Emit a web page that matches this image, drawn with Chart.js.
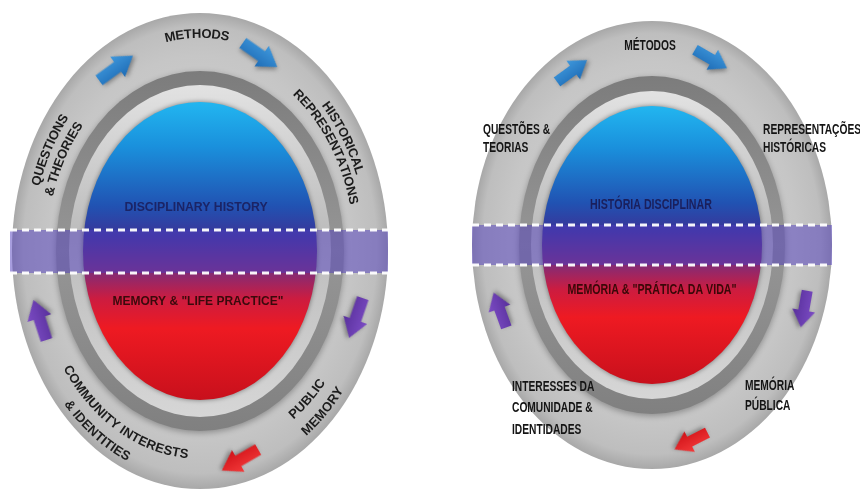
<!DOCTYPE html>
<html><head><meta charset="utf-8">
<script src="https://cdn.jsdelivr.net/npm/chart.js@4.4.1/dist/chart.umd.min.js"></script>
<style>html,body{margin:0;padding:0;background:#fff;}canvas{display:block;}</style>
</head><body>
<canvas id="c" width="860" height="490"></canvas>
<script>
// ---- text content ----
const centreLabelsEN = ['DISCIPLINARY HISTORY', 'MEMORY & "LIFE PRACTICE"'];
const centreLabelsPT = ['HISTÓRIA DISCIPLINAR', 'MEMÓRIA & "PRÁTICA DA VIDA"'];
const ringLabelsEN = ['METHODS', 'QUESTIONS', '& THEORIES', 'HISTORICAL', 'REPRESENTATIONS',
                      'COMMUNITY INTERESTS', '& IDENTITIES', 'PUBLIC', 'MEMORY'];
const ringLabelsPT = ['MÉTODOS', 'QUESTÕES &', 'TEORIAS', 'REPRESENTAÇÕES', 'HISTÓRICAS',
                      'INTERESSES DA', 'COMUNIDADE &', 'IDENTIDADES', 'MEMÓRIA', 'PÚBLICA'];
// ---- arrows (cycle markers) ----
const arrowKinds = ['blue', 'blue', 'purple', 'purple', 'red', 'blue', 'blue', 'purple', 'purple', 'red'];
const arrowX = [116, 260, 40, 356, 240, 572, 711, 500, 804, 691];
const arrowY = [68, 55, 320, 318, 460, 71, 59, 310, 309, 441];
const arrowAngle = [-36, 35, -108, 109, 150, -36, 30, -110, 100, 153];

// ---- layout of the two diagrams (data units = pixels of the 860x490 scale) ----
const diagrams = [
  {cx: 200, cy: 251, outer: [188, 238], dark: [144, 180], light: [131, 166], inner: [117, 149],
   band: [230, 273], bandX: [10, 388]},
  {cx: 652, cy: 245, outer: [180, 224], dark: [133, 169], light: [121, 154], inner: [110, 139],
   band: [225, 265], bandX: [472, 832]}
];
const ringTextEN = [ // [label index, k, t(deg), dir]
  [0, 172, -91, 1], [1, 172, -152, 1], [2, 157, -152, 1], [3, 171, -32, 1], [4, 158, -33, 1],
  [5, 162, 121, -1], [6, 179, 126, -1], [7, 160, 47.5, -1], [8, 178, 46, -1]
];
const ringTextPT = [ // [label index, x, y, align]
  [0, 650, 46, 'center'], [1, 483, 130, 'left'], [2, 483, 148, 'left'], [3, 763, 130, 'left'],
  [4, 763, 148, 'left'], [5, 512, 387, 'left'], [6, 512, 408, 'left'], [7, 512, 430, 'left'],
  [8, 745, 386, 'left'], [9, 745, 406, 'left']
];
const centreTextPos = [[196, 208, 198, 302], [651, 205, 652, 290]];

function makeArrow(len, shaftW, headW, headL, c1, c2) {
  const pad = 8;
  const cv = document.createElement('canvas');
  cv.width = len + pad * 2; cv.height = headW + pad * 2;
  const g = cv.getContext('2d');
  const cy = cv.height / 2;
  g.translate(pad, 0);
  g.beginPath();
  g.moveTo(0, cy - shaftW / 2);
  g.lineTo(len - headL, cy - shaftW / 2);
  g.lineTo(len - headL, cy - headW / 2);
  g.lineTo(len, cy);
  g.lineTo(len - headL, cy + headW / 2);
  g.lineTo(len - headL, cy + shaftW / 2);
  g.lineTo(0, cy + shaftW / 2);
  g.closePath();
  g.shadowColor = 'rgba(0,0,0,0.35)'; g.shadowBlur = 4; g.shadowOffsetX = 1.5; g.shadowOffsetY = 2;
  const grd = g.createLinearGradient(0, cy - headW / 2, 0, cy + headW / 2);
  grd.addColorStop(0, c1); grd.addColorStop(1, c2);
  g.fillStyle = grd; g.fill();
  return cv;
}
const arrowColours = {blue: ['#3f98dc', '#1e6cb6'], purple: ['#7c4cc4', '#58309c'], red: ['#f43a3a', '#d01218']};
const arrowImgs = [{}, {}];
for (const k in arrowColours) {
  arrowImgs[0][k] = makeArrow(42, 12, 25, 19, arrowColours[k][0], arrowColours[k][1]);
  arrowImgs[1][k] = makeArrow(37, 11, 23, 17, arrowColours[k][0], arrowColours[k][1]);
}

function ellipsePath(ctx, cx, cy, rx, ry) {
  ctx.beginPath(); ctx.ellipse(cx, cy, rx, ry, 0, 0, Math.PI * 2);
}

const ringsPlugin = {
  id: 'rings',
  beforeDatasetsDraw(chart) {
    const {ctx, scales: {x, y}} = chart;
    const sx = Math.abs(x.getPixelForValue(1) - x.getPixelForValue(0));
    const sy = Math.abs(y.getPixelForValue(1) - y.getPixelForValue(0));
    diagrams.forEach(d => {
      const cx = x.getPixelForValue(d.cx), cy = y.getPixelForValue(d.cy);
      ctx.save();
      // outer grey ring
      let rx = d.outer[0] * sx, ry = d.outer[1] * sy;
      ctx.save();
      ctx.translate(cx, cy); ctx.scale(1, ry / rx);
      let g = ctx.createRadialGradient(0, -rx * 0.1, 0, 0, 0, rx);
      g.addColorStop(0, '#d6d6d6'); g.addColorStop(0.8, '#c6c6c6');
      g.addColorStop(0.94, '#bebebe'); g.addColorStop(1, '#a8a8a8');
      ctx.fillStyle = g; ctx.beginPath(); ctx.arc(0, 0, rx, 0, Math.PI * 2); ctx.fill();
      ctx.restore();
      // dark ring
      rx = d.dark[0] * sx; ry = d.dark[1] * sy;
      ctx.save();
      ctx.shadowColor = 'rgba(0,0,0,0.3)'; ctx.shadowBlur = 6; ctx.shadowOffsetY = 2;
      g = ctx.createLinearGradient(0, cy - ry, 0, cy + ry);
      g.addColorStop(0, '#7c7c7c'); g.addColorStop(0.5, '#969696'); g.addColorStop(1, '#808080');
      ctx.fillStyle = g; ellipsePath(ctx, cx, cy, rx, ry); ctx.fill();
      ctx.restore();
      // light ring
      rx = d.light[0] * sx; ry = d.light[1] * sy;
      g = ctx.createLinearGradient(0, cy - ry, 0, cy + ry);
      g.addColorStop(0, '#e2e2e2'); g.addColorStop(0.45, '#bcbcbc'); g.addColorStop(1, '#d6d6d6');
      ctx.fillStyle = g; ellipsePath(ctx, cx, cy, rx, ry); ctx.fill();
      // inner gradient ellipse
      rx = d.inner[0] * sx; ry = d.inner[1] * sy;
      ctx.save();
      ctx.shadowColor = 'rgba(0,0,0,0.45)'; ctx.shadowBlur = 5;
      g = ctx.createLinearGradient(0, cy - ry, 0, cy + ry);
      g.addColorStop(0, '#22b6f0'); g.addColorStop(0.15, '#1a90dc'); g.addColorStop(0.35, '#2152b2');
      g.addColorStop(0.45, '#3a3498'); g.addColorStop(0.58, '#8a2a70'); g.addColorStop(0.66, '#cc1c40');
      g.addColorStop(0.76, '#ee1a22'); g.addColorStop(1, '#c8101c');
      ctx.fillStyle = g; ellipsePath(ctx, cx, cy, rx, ry); ctx.fill();
      ctx.restore();
      // purple band
      const bx0 = x.getPixelForValue(d.bandX[0]), bx1 = x.getPixelForValue(d.bandX[1]);
      const by0 = y.getPixelForValue(d.band[0]), by1 = y.getPixelForValue(d.band[1]);
      ctx.fillStyle = 'rgba(80,60,190,0.5)';
      ctx.fillRect(bx0, by0, bx1 - bx0, by1 - by0);
      ctx.strokeStyle = 'rgba(255,255,255,0.95)'; ctx.lineWidth = 3; ctx.setLineDash([7, 5]);
      ctx.beginPath(); ctx.moveTo(bx0, by0); ctx.lineTo(bx1, by0);
      ctx.moveTo(bx0, by1); ctx.lineTo(bx1, by1); ctx.stroke();
      ctx.setLineDash([]);
      ctx.restore();
    });
  }
};

function drawArcText(ctx, text, cx, cy, rx, ry, tDeg, dir) {
  const speed = t => Math.hypot(rx * Math.sin(t), ry * Math.cos(t));
  const W = ctx.measureText(text).width;
  let t = tDeg * Math.PI / 180, rem = W / 2;
  while (rem > 0) { const st = Math.min(1, rem); t -= dir * st / speed(t); rem -= st; }
  for (const ch of text) {
    const w = ctx.measureText(ch).width;
    const tm = t + dir * (w / 2) / speed(t);
    const px = cx + rx * Math.cos(tm), py = cy + ry * Math.sin(tm);
    const ang = Math.atan2(dir * ry * Math.cos(tm), -dir * rx * Math.sin(tm));
    ctx.save(); ctx.translate(px, py); ctx.rotate(ang); ctx.fillText(ch, 0, 0); ctx.restore();
    t += dir * w / speed(tm);
  }
}
function fillScaled(ctx, text, px, py, align, sxScale) {
  ctx.save(); ctx.translate(px, py); ctx.scale(sxScale, 1);
  ctx.textAlign = align; ctx.fillText(text, 0, 0); ctx.restore();
}

const textPlugin = {
  id: 'texts',
  afterDatasetsDraw(chart) {
    const {ctx, scales: {x, y}} = chart;
    const sx = Math.abs(x.getPixelForValue(1) - x.getPixelForValue(0));
    const sy = Math.abs(y.getPixelForValue(1) - y.getPixelForValue(0));
    ctx.save();
    ctx.textBaseline = 'middle'; ctx.textAlign = 'center';
    // left diagram ring texts
    const d0 = diagrams[0];
    const cx0 = x.getPixelForValue(d0.cx), cy0 = y.getPixelForValue(d0.cy);
    ctx.font = 'bold 13px "Liberation Sans", Arial, sans-serif';
    ctx.fillStyle = '#1c1c1c';
    ringTextEN.forEach(([i, k, t, dir]) => {
      drawArcText(ctx, ringLabelsEN[i], cx0, cy0, k * sx, k * 1.26 * sy, t, dir);
    });
    // centre labels
    ctx.font = 'bold 12.5px "Liberation Sans", Arial, sans-serif';
    const p = centreTextPos[0];
    ctx.fillStyle = '#1b2466';
    fillScaled(ctx, centreLabelsEN[0], x.getPixelForValue(p[0]), y.getPixelForValue(p[1]), 'center', 0.98);
    ctx.fillStyle = '#3a0a0c';
    fillScaled(ctx, centreLabelsEN[1], x.getPixelForValue(p[2]), y.getPixelForValue(p[3]), 'center', 0.96);
    // right diagram
    ctx.font = 'bold 14px "Liberation Sans", Arial, sans-serif';
    ctx.fillStyle = '#141414';
    ringTextPT.forEach(([i, px, py, al]) => {
      fillScaled(ctx, ringLabelsPT[i], x.getPixelForValue(px), y.getPixelForValue(py), al, 0.73);
    });
    const q = centreTextPos[1];
    ctx.fillStyle = '#1a1f5c';
    fillScaled(ctx, centreLabelsPT[0], x.getPixelForValue(q[0]), y.getPixelForValue(q[1]), 'center', 0.76);
    ctx.fillStyle = '#3a0808';
    fillScaled(ctx, centreLabelsPT[1], x.getPixelForValue(q[2]), y.getPixelForValue(q[3]), 'center', 0.76);
    ctx.restore();
  }
};

new Chart(document.getElementById('c'), {
  type: 'scatter',
  data: {
    datasets: [{
      data: arrowX.map((v, i) => ({x: v, y: arrowY[i]})),
      pointStyle: c => arrowImgs[c.dataIndex < 5 ? 0 : 1][arrowKinds[c.dataIndex]],
      rotation: c => arrowAngle[c.dataIndex],
      pointRadius: 20,
      clip: false
    }]
  },
  options: {
    responsive: false, animation: false, events: [],
    layout: {padding: 0, autoPadding: false},
    plugins: {legend: {display: false}, tooltip: {enabled: false}},
    scales: {
      x: {type: 'linear', min: 0, max: 860, display: false},
      y: {type: 'linear', min: 0, max: 490, reverse: true, display: false}
    }
  },
  plugins: [ringsPlugin, textPlugin]
});
</script>
</body></html>
